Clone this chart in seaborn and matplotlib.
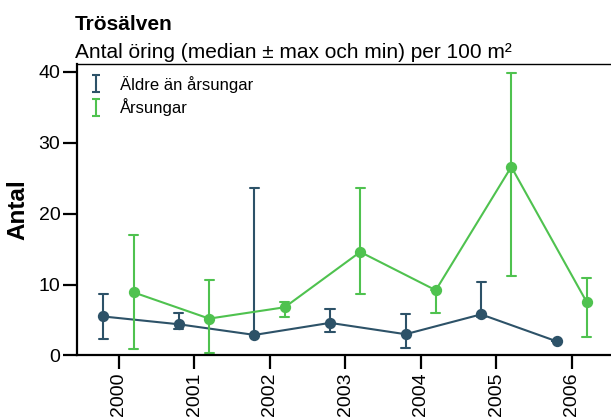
import numpy as np
import pandas as pd
import matplotlib.pyplot as plt
import seaborn as sns

# Data (median, max, min per year)
years = ["2000", "2001", "2002", "2003", "2004", "2005", "2006"]
groups = ["Äldre än årsungar", "Årsungar"]

aldre_median = [5.5, 4.4, 2.9, 4.6, 3.0, 5.8, 2.0]
aldre_max = [8.7, 6.0, 23.6, 6.5, 5.9, 10.3, 2.0]
aldre_min = [2.3, 3.7, 2.9, 3.3, 1.0, 5.4, 2.0]

arsungar_median = [8.9, 5.2, 6.8, 14.6, 9.2, 26.6, 7.5]
arsungar_max = [17.0, 10.6, 7.5, 23.6, 9.2, 39.8, 10.9]
arsungar_min = [0.9, 0.3, 5.4, 8.7, 6.0, 11.2, 2.6]

colors = {"Äldre än årsungar": "#2d5268", "Årsungar": "#4fc24f"}

# long format: min, median, max per year/group -> median estimator, min-max errorbar
rows = []
for grp, med, hi, lo in [
    (groups[0], aldre_median, aldre_max, aldre_min),
    (groups[1], arsungar_median, arsungar_max, arsungar_min),
]:
    for yr, m, h, l in zip(years, med, hi, lo):
        for v in (l, m, h):
            rows.append({"year": yr, "group": grp, "antal": v})
df = pd.DataFrame(rows)

sns.set_theme(style="ticks")
plt.rcParams["font.family"] = ["Liberation Sans", "DejaVu Sans"]
plt.rcParams.update({"text.color": "black", "axes.labelcolor": "black",
                     "xtick.color": "black", "ytick.color": "black"})

fig = plt.figure(figsize=(6.11, 4.17), dpi=100)
ax = fig.add_axes([0.126, 0.1475, 0.874, 0.699])

sns.pointplot(
    data=df, x="year", y="antal", hue="group", order=years, hue_order=groups,
    palette=colors, estimator="median", errorbar=lambda v: (v.min(), v.max()),
    dodge=0.4, capsize=0.12, markersize=7, linewidth=1.5,
    legend=False, ax=ax,
)

# legend with errorbar-only glyphs
for g in groups:
    ax.errorbar([np.nan], [np.nan], yerr=[1], fmt="none", ecolor=colors[g],
                elinewidth=1.5, capsize=3, capthick=1.5, label=g)
ax.legend(loc="upper left", bbox_to_anchor=(0.0, 1.0), frameon=False, fontsize=12,
          handlelength=0.9, handletextpad=1.0, labelspacing=0.35, borderaxespad=0.3)

ax.set_xlim(-0.55, 6.52)
ax.set_ylim(0, 41.1)
ax.set_yticks([0, 10, 20, 30, 40])
ax.set_xlabel("")
ax.set_ylabel("Antal", fontsize=17.5, fontweight="bold")
ax.yaxis.set_label_coords(-0.09, 0.5)
ax.tick_params(axis="both", labelsize=14, length=10, width=1.6, color="black",
               labelcolor="black", pad=2)
ax.tick_params(axis="x", rotation=90)

ax.spines["right"].set_visible(False)
for s in ["left", "bottom"]:
    ax.spines[s].set_linewidth(1.6)
    ax.spines[s].set_color("black")
ax.spines["top"].set_linewidth(1.0)
ax.spines["top"].set_color("black")

fig.text(0.123, 0.929, "Trösälven", fontsize=15, fontweight="bold", va="baseline")
fig.text(0.123, 0.861, "Antal öring (median ± max och min) per 100 m²", fontsize=15, va="baseline")

fig.savefig("out.png", dpi=100)
